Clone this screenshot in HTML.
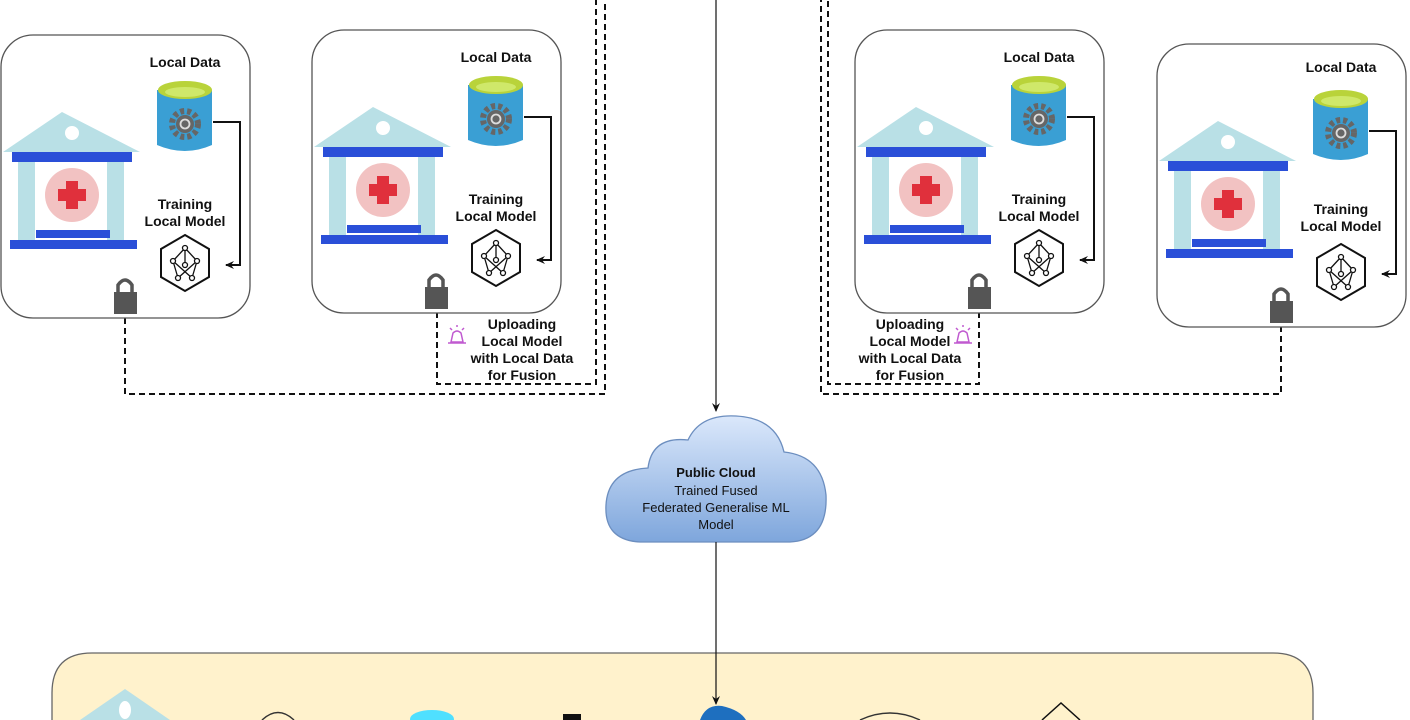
<!DOCTYPE html>
<html><head><meta charset="utf-8"><style>
html,body{margin:0;padding:0;background:#fff;width:1410px;height:720px;overflow:hidden;}
svg{display:block;font-family:"Liberation Sans",Arial,sans-serif;}
.b{font-weight:bold;font-size:14px;fill:#111;text-anchor:middle;}
.c{font-size:13px;fill:#111;text-anchor:middle;}
</style></head><body>
<svg width="1410" height="720" viewBox="0 0 1410 720" xmlns="http://www.w3.org/2000/svg">
<defs>
<marker id="ar" markerWidth="10" markerHeight="10" refX="8" refY="5" orient="auto" markerUnits="userSpaceOnUse"><path d="M0,1 L9,5 L0,9 L3,5 Z" fill="#111"/></marker>
<g id="card">
 <rect x="1" y="0" width="249" height="283" rx="32" fill="#fff" stroke="#555" stroke-width="1.3"/>
 <polygon points="62,77 140,117 3,117" fill="#b9e0e6"/>
 <circle cx="72" cy="98" r="7" fill="#fff"/>
 <rect x="12" y="117" width="120" height="10" fill="#2a4fd8"/>
 <rect x="18" y="127" width="17" height="80" fill="#b9e0e6"/>
 <rect x="107" y="127" width="17" height="80" fill="#b9e0e6"/>
 <circle cx="72" cy="160" r="27" fill="#f2c2c2"/>
 <rect x="66" y="146" width="12" height="28" fill="#e0303c"/>
 <rect x="58" y="154" width="28" height="12" fill="#e0303c"/>
 <rect x="36" y="195" width="74" height="8" fill="#2a4fd8"/>
 <rect x="10" y="205" width="127" height="9" fill="#2a4fd8"/>
 <path d="M157,55 L157,110 Q185,122 212,110 L212,55 Z" fill="#3a9fd4"/>
 <ellipse cx="185" cy="55" rx="27" ry="9" fill="#b9d33a"/>
 <ellipse cx="185" cy="57" rx="20" ry="5" fill="#cfe86a"/>
 <circle cx="185" cy="89" r="13" fill="none" stroke="#666" stroke-width="6" stroke-dasharray="4 3"/>
 <circle cx="185" cy="89" r="9" fill="#666"/>
 <circle cx="185" cy="89" r="4.5" fill="none" stroke="#ddd" stroke-width="1.8"/>
 <path d="M213,87 L240,87 L240,230 L226,230" fill="none" stroke="#111" stroke-width="2" marker-end="url(#ar)"/>
 <polygon points="185,200 209,214 209,242 185,256 161,242 161,214" fill="#fff" stroke="#111" stroke-width="2"/>
 <g stroke="#111" stroke-width="1.3" fill="#fff">
  <line x1="185" y1="213" x2="173" y2="226"/><line x1="185" y1="213" x2="197" y2="226"/>
  <line x1="173" y1="226" x2="178" y2="243"/><line x1="197" y1="226" x2="192" y2="243"/>
  <line x1="173" y1="226" x2="192" y2="243"/><line x1="197" y1="226" x2="178" y2="243"/>
  <line x1="185" y1="213" x2="185" y2="230"/>
  <circle cx="185" cy="213" r="2.5"/><circle cx="173" cy="226" r="2.5"/><circle cx="197" cy="226" r="2.5"/>
  <circle cx="178" cy="243" r="2.5"/><circle cx="192" cy="243" r="2.5"/><circle cx="185" cy="230" r="2.5"/>
 </g>
 <path d="M118,258 L118,250 Q125,240 132,250 L132,258" fill="none" stroke="#555" stroke-width="3.5"/>
 <rect x="114" y="257" width="23" height="22" fill="#555"/>
</g>
<g id="alarm" fill="none" stroke="#c05ad0" stroke-width="1.5">
 <path d="M-6,8 L-4,-1 Q0,-5 4,-1 L6,8 Z"/><line x1="-9" y1="9" x2="9" y2="9"/>
 <line x1="0" y1="-9" x2="0" y2="-7"/><line x1="-7" y1="-6" x2="-5" y2="-4"/><line x1="7" y1="-6" x2="5" y2="-4"/>
</g>
<linearGradient id="cg" x1="0" y1="0" x2="0" y2="1"><stop offset="0" stop-color="#dbe8fb"/><stop offset="1" stop-color="#7ea6dc"/></linearGradient>
</defs>

<g fill="none" stroke="#111" stroke-width="2" stroke-dasharray="6 4">
 <path d="M125,318 L125,394 L605,394 L605,0"/>
 <path d="M437,312 L437,384 L596,384 L596,0"/>
 <path d="M979,312 L979,384 L828,384 L828,0"/>
 <path d="M1281,326 L1281,394 L821,394 L821,0"/>
</g>

<use href="#card" x="0" y="35"/>
<use href="#card" x="311" y="30"/>
<use href="#card" x="854" y="30"/>
<use href="#card" x="1156" y="44"/>

<text class="b" x="185" y="67">Local Data</text>
<text class="b" x="185" y="209">Training</text><text class="b" x="185" y="226">Local Model</text>
<text class="b" x="496" y="62">Local Data</text>
<text class="b" x="496" y="204">Training</text><text class="b" x="496" y="221">Local Model</text>
<text class="b" x="1039" y="62">Local Data</text>
<text class="b" x="1039" y="204">Training</text><text class="b" x="1039" y="221">Local Model</text>
<text class="b" x="1341" y="72">Local Data</text>
<text class="b" x="1341" y="214">Training</text><text class="b" x="1341" y="231">Local Model</text>

<text class="b" x="522" y="329">Uploading</text><text class="b" x="522" y="346">Local Model</text>
<text class="b" x="522" y="363">with Local Data</text><text class="b" x="522" y="380">for Fusion</text>
<use href="#alarm" x="457" y="334"/>
<text class="b" x="910" y="329">Uploading</text><text class="b" x="910" y="346">Local Model</text>
<text class="b" x="910" y="363">with Local Data</text><text class="b" x="910" y="380">for Fusion</text>
<use href="#alarm" x="963" y="334"/>

<line x1="716" y1="0" x2="716" y2="411" stroke="#111" stroke-width="1.2" marker-end="url(#ar)"/>

<path d="M640,542 Q604,540 606,505 Q608,470 648,468 Q652,436 688,440 Q700,414 736,416 Q776,418 784,452 Q822,456 826,495 Q828,540 790,542 Z" fill="url(#cg)" stroke="#6c8ebf" stroke-width="1.3"/>
<text class="c" x="716" y="477" font-weight="bold">Public Cloud</text>
<text class="c" x="716" y="495">Trained Fused</text>
<text class="c" x="716" y="512">Federated Generalise ML</text>
<text class="c" x="716" y="529">Model</text>

<path d="M52,720 L52,693 Q52,653 92,653 L1273,653 Q1313,653 1313,693 L1313,720 Z" fill="#fff2cc" stroke="none"/>
<path d="M52,720 L52,693 Q52,653 92,653 L1273,653 Q1313,653 1313,693 L1313,720" fill="none" stroke="#666" stroke-width="1.3"/>
<polygon points="125,689 170,720 80,720" fill="#b9e0e6"/>
<ellipse cx="125" cy="710" rx="6" ry="9" fill="#fff"/>
<ellipse cx="432" cy="719" rx="22" ry="9" fill="#4fe0ff"/>
<path d="M262,720 Q278,705 294,720" fill="none" stroke="#333" stroke-width="1.5"/>
<rect x="563" y="714" width="18" height="6" fill="#111"/>
<path d="M700,720 Q706,704 722,706 Q740,710 746,720 Z" fill="#1e6fbf"/>
<path d="M860,720 Q890,706 920,720" fill="none" stroke="#333" stroke-width="1.5"/>
<polyline points="1042,720 1061,703 1080,720" fill="none" stroke="#111" stroke-width="1.5"/>
<line x1="716" y1="542" x2="716" y2="704" stroke="#111" stroke-width="1.2" marker-end="url(#ar)"/>
</svg>
</body></html>
